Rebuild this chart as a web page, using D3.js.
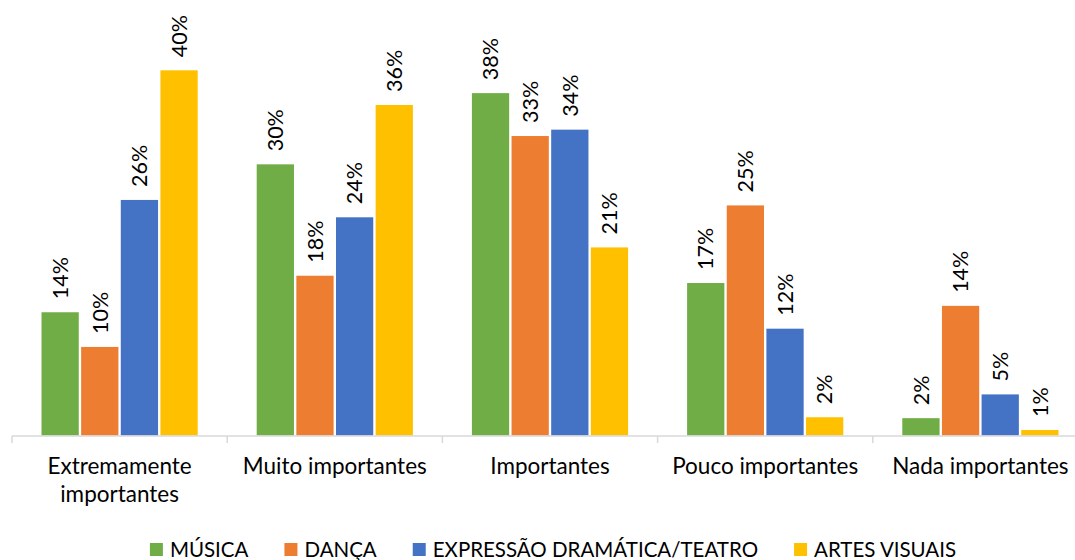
<!DOCTYPE html>
<html>
<head>
<meta charset="utf-8">
<script src="https://cdn.jsdelivr.net/npm/d3@7"></script>
<style>
  body { margin: 0; background: #fff; }
  svg { display: block; font-family: Lato, "Liberation Sans", sans-serif; }
</style>
</head>
<body>
<svg width="1075" height="560"></svg>
<script>
// categories and series (%)
var categories = [["Extremamente", "importantes"], ["Muito importantes"], ["Importantes"], ["Pouco importantes"], ["Nada importantes"]];
var seriesNames = ["MÚSICA", "DANÇA", "EXPRESSÃO DRAMÁTICA/TEATRO", "ARTES VISUAIS"];
var seriesColors = ["#70AD47", "#ED7D31", "#4472C4", "#FFC000"];
var musica  = [13.5, 29.7, 37.5, 16.7, 1.9];
var danca   = [9.7, 17.5, 32.8, 25.2, 14.2];
var teatro  = [25.8, 23.9, 33.5, 11.7, 4.5];
var artes   = [40.0, 36.2, 20.6, 2.0, 0.6];

var series = [musica, danca, teatro, artes];

var svg = d3.select("svg");
var bandW = 215.2;
var x0 = d3.scaleBand().domain(d3.range(categories.length)).range([12, 12 + bandW * categories.length]);
var x1 = d3.scaleBand().domain(d3.range(series.length)).range([29.5, bandW - 29.5]).paddingInner(0.06);
var y = d3.scaleLinear().domain([0, 40]).range([435.5, 70.3]);

// bars
var groups = svg.append("g").selectAll("g")
    .data(categories)
    .enter().append("g")
    .attr("transform", function(d, i) { return "translate(" + x0(i) + ",0)"; });

groups.selectAll("rect")
    .data(function(d, i) { return series.map(function(s, k) { return {k: k, v: s[i]}; }); })
    .enter().append("rect")
    .attr("x", function(d) { return x1(d.k); })
    .attr("y", function(d) { return y(d.v); })
    .attr("width", x1.bandwidth())
    .attr("height", function(d) { return y(0) - y(d.v); })
    .attr("fill", function(d) { return seriesColors[d.k]; });

// value labels, rotated
groups.selectAll("text.val")
    .data(function(d, i) { return series.map(function(s, k) { return {k: k, v: s[i]}; }); })
    .enter().append("text")
    .attr("class", "val")
    .attr("transform", function(d) { return "translate(" + (x1(d.k) + x1.bandwidth() / 2) + "," + (y(d.v) - 13) + ") rotate(-90)"; })
    .attr("dy", "0.36em")
    .style("font-size", "21.5px")
    .style("fill", "#000")
    .text(function(d) { return Math.round(d.v) + "%"; });

// axis line + ticks
var axis = svg.append("g");
axis.append("line")
    .attr("x1", 12).attr("x2", 1075)
    .attr("y1", 436).attr("y2", 436)
    .attr("stroke", "#D9D9D9").attr("stroke-width", 1.5);
axis.selectAll("line.tick")
    .data(d3.range(categories.length))
    .enter().append("line")
    .attr("class", "tick")
    .attr("x1", function(i) { return x0(i); }).attr("x2", function(i) { return x0(i); })
    .attr("y1", 436).attr("y2", 443)
    .attr("stroke", "#D9D9D9").attr("stroke-width", 1.5);

// category labels
var cat = svg.append("g").selectAll("text")
    .data(categories)
    .enter().append("text")
    .attr("x", function(d, i) { return x0(i) + x0.bandwidth() / 2; })
    .attr("y", 474)
    .attr("text-anchor", "middle")
    .style("font-size", "22.5px")
    .style("fill", "#000");
cat.selectAll("tspan")
    .data(function(d) { return d; })
    .enter().append("tspan")
    .attr("x", function() { return d3.select(this.parentNode).attr("x"); })
    .attr("dy", function(d, i) { return i ? 28 : 0; })
    .text(function(d) { return d; });

// legend
var legend = svg.append("g");
var lx = 0;
seriesNames.forEach(function(name, k) {
    var g = legend.append("g");
    g.append("rect").attr("x", 0).attr("y", 543).attr("width", 13).attr("height", 13).attr("fill", seriesColors[k]);
    var t = g.append("text").attr("x", 20).attr("y", 557).style("font-size", "20.5px").style("fill", "#000").text(name);
    var w = 20 + t.node().getComputedTextLength();
    g.attr("transform", "translate(" + lx + ",0)");
    lx += w + 36;
});
var total = lx - 36;
legend.attr("transform", "translate(" + (553 - total / 2) + ",0)");
</script>
</body>
</html>
